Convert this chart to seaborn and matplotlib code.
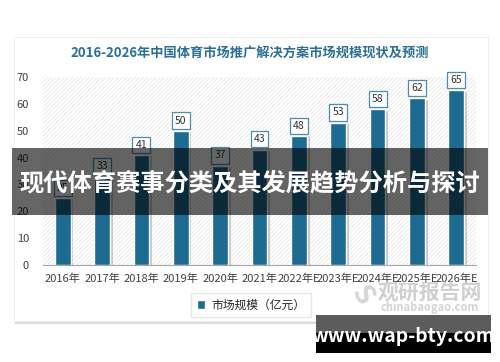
import matplotlib
matplotlib.use("Agg")
import matplotlib.pyplot as plt
import matplotlib.patheffects as pe
from matplotlib.patches import Rectangle, FancyBboxPatch
import pandas as pd
import seaborn as sns

years = ["2016年", "2017年", "2018年", "2019年", "2020年", "2021年",
         "2022年E", "2023年E", "2024年E", "2025年E", "2026年E"]
market_size = [25, 33, 41, 50, 37, 43, 48, 53, 58, 62, 65]

title = "2016-2026年中国体育市场推广解决方案市场规模现状及预测"
legend_label = "市场规模（亿元）"
banner_text = "现代体育赛事分类及其发展趋势分析与探讨"
site_text = "www.wap-bty.com"

sns.set_style("white")
plt.rcParams["font.family"] = ["Noto Sans CJK SC", "DejaVu Sans"]
plt.rcParams["hatch.linewidth"] = 0.5

W, H = 500, 362
BAR = "#1d6b90"

df = pd.DataFrame({"year": years, "value": market_size})

fig = plt.figure(figsize=(W / 100, H / 100), dpi=100)
fig.patch.set_facecolor("white")


def fx(px):
    return px / W


def fy(py):
    return 1 - py / H


# card with shadow
card = FancyBboxPatch((fx(14), fy(321)), fx(488) - fx(14), fy(37) - fy(321),
                      boxstyle="square,pad=0", transform=fig.transFigure,
                      facecolor="white", edgecolor="#eeeeee", linewidth=0.6, zorder=-1,
                      path_effects=[pe.SimplePatchShadow(offset=(1, -2), shadow_rgbFace="#bbbbbb", alpha=0.5),
                                    pe.Normal()])
fig.patches.append(card)

fig.text(0.5, fy(53), title, ha="center", va="center", fontsize=9.5,
         fontweight="bold", color="#2b6f95")

ax = fig.add_axes([fx(43), fy(265), fx(476) - fx(43), fy(77) - fy(265)])
ax.set_zorder(1)
ax.set_facecolor("none")
ax.add_patch(Rectangle((0, 0), 1, 1, transform=ax.transAxes, facecolor="white",
                       edgecolor="#e2e2e2", hatch="////////", linewidth=0, zorder=0))

sns.barplot(data=df, x="year", y="value", color=BAR, width=0.4, saturation=1,
            ax=ax, zorder=2)
for bar in ax.patches[1:]:
    bar.set_path_effects([pe.SimplePatchShadow(offset=(2, -1), shadow_rgbFace="#999999", alpha=0.5),
                          pe.Normal()])

for i, v in enumerate(market_size):
    ax.text(i, v + 3.8, str(v), ha="center", va="center", fontsize=7.5, color="#333333",
            zorder=4,
            bbox=dict(boxstyle="square,pad=0.3", facecolor="white", edgecolor="#4f8db0", linewidth=0.9))

ax.set_xlim(-0.5, len(years) - 0.5)
ax.set_ylim(0, 70)
ax.set_yticks(range(0, 71, 10))
ax.set_xlabel("")
ax.set_ylabel("")
ax.tick_params(axis="both", length=0, labelsize=8, colors="#404040")
ax.tick_params(axis="y", pad=10)
ax.tick_params(axis="x", pad=6)
for s in ["top", "right", "left"]:
    ax.spines[s].set_visible(False)
ax.spines["bottom"].set_color("#a6a6a6")
ax.spines["bottom"].set_linewidth(0.8)

# legend
handle = Rectangle((0, 0), 1, 1, facecolor=BAR)
leg = fig.legend([handle], [legend_label], loc="center", bbox_to_anchor=(fx(251), fy(305)),
                 fontsize=8.5, frameon=True, edgecolor="#e3e3e3", fancybox=False,
                 handlelength=0.7, handleheight=0.7, handletextpad=0.5, borderpad=0.5)
leg.set_zorder(2)

# watermark
fig.text(fx(430), fy(292), "观研报告网", ha="center", va="center", fontsize=15,
         fontweight="bold", color="#d0d0d0", zorder=3)
fig.text(fx(430), fy(307), "chinabaogao.com", ha="center", va="center", fontsize=8,
         fontweight="bold", color="#d4d4d4", zorder=3)
fig.text(fx(362), fy(296), "S", ha="center", va="center", fontsize=20,
         fontweight="bold", color="#d6d6d6", rotation=-60, zorder=3)

# dark banner
fig.patches.append(Rectangle((fx(12), fy(215)), fx(488) - fx(12), fy(148) - fy(215),
                             transform=fig.transFigure, facecolor="black", alpha=0.6,
                             linewidth=0, zorder=10))
fig.text(0.5, fy(183), banner_text, ha="center", va="center", fontsize=17.5,
         fontweight="bold", color="white", zorder=11)

# site box
fig.patches.append(Rectangle((fx(316), fy(353)), fx(491) - fx(316), fy(315) - fy(353),
                             transform=fig.transFigure, facecolor="black",
                             linewidth=0, zorder=10))
fig.patches.append(Rectangle((fx(316), fy(333)), fx(491) - fx(316), fy(315) - fy(333),
                             transform=fig.transFigure, facecolor="#5c5c5c",
                             linewidth=0, zorder=10))
fig.text(fx(403), fy(336), site_text, ha="center", va="center", fontsize=14,
         fontweight="bold", color="white", zorder=11)

fig.savefig("out.png", dpi=100)
